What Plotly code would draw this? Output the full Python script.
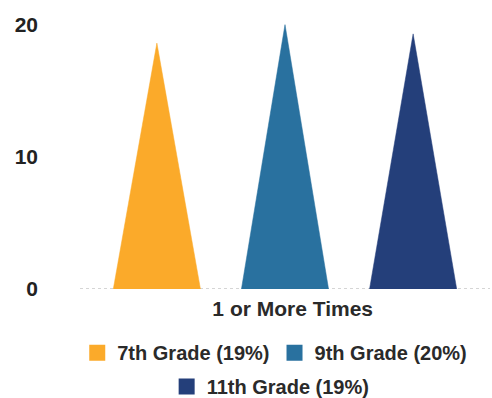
import plotly.graph_objects as go

categories = ["1 or More Times"]
series_names = ["7th Grade (19%)", "9th Grade (20%)", "11th Grade (19%)"]
series_values = [18.6, 20, 19.3]
colors = ["#FBAA2A", "#29719F", "#243F7A"]
y_ticks = [0, 10, 20]

offsets = [-1, 0, 1]
half_w = 0.34

fig = go.Figure()
for name, val, col, off in zip(series_names, series_values, colors, offsets):
    fig.add_trace(go.Scatter(
        x=[off - half_w, off, off + half_w, off - half_w],
        y=[0, val, 0, 0],
        mode="lines", fill="toself", fillcolor=col,
        line=dict(color=col, width=0.5),
        showlegend=False, hoverinfo="skip"))

legend_ids = ["legend", "legend", "legend2"]
for name, col, lg in zip(series_names, colors, legend_ids):
    fig.add_trace(go.Scatter(
        x=[None], y=[None], mode="markers", name=name,
        marker=dict(symbol="square", size=19, color=col),
        legend=lg))

fig.add_shape(type="line", xref="paper", yref="y", x0=0, x1=1, y0=0, y1=0,
              line=dict(color="#C8C8C8", width=1.5, dash="dot"), layer="below")

fam = "Liberation Sans, Arial, sans-serif"
txt = dict(family=fam, color="#2a2a2a", weight="bold")

fig.update_layout(
    width=492, height=398,
    margin=dict(l=80, r=2, t=18, b=109, autoexpand=False),
    plot_bgcolor="white", paper_bgcolor="white",
    xaxis=dict(range=[-1.6, 1.6], tickmode="array", tickvals=[0.06], ticktext=categories,
               showgrid=False, zeroline=False, showline=False, ticks="",
               ticklabelstandoff=5,
               tickfont=dict(size=21, **txt)),
    yaxis=dict(range=[0, 20.5], tickmode="array", tickvals=y_ticks,
               ticktext=[str(v) for v in y_ticks],
               showgrid=False, zeroline=False, showline=False, ticks="",
               ticklabelstandoff=41,
               tickfont=dict(size=21, family=fam, color="#222222", weight="bold")),
    legend=dict(orientation="h", x=0.475, xanchor="center", y=-0.235, yanchor="middle",
                font=dict(size=20, **txt), itemwidth=30),
    legend2=dict(orientation="h", x=0.465, xanchor="center", y=-0.36, yanchor="middle",
                 font=dict(size=20, **txt), itemwidth=30),
)

fig.write_html("out.html", config={"displayModeBar": False},
               post_script="document.body.style.margin='0';")
